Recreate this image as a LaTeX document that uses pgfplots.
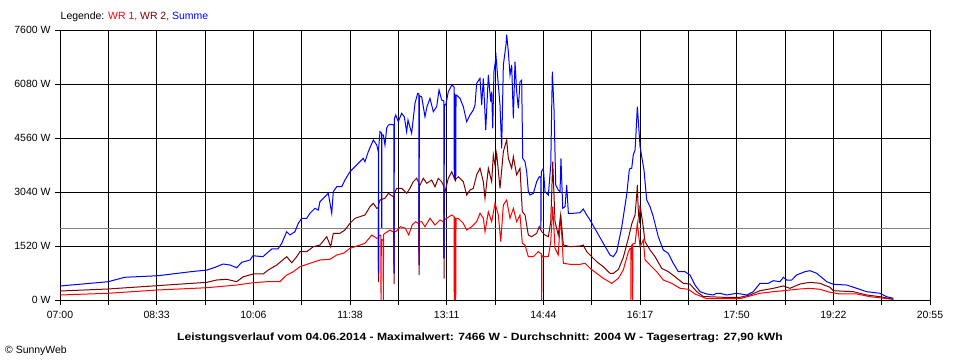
\documentclass[border=0pt]{standalone}
\usepackage{pgfplots}
\pgfplotsset{compat=1.18}
\usepackage{fontspec}
\setmainfont{Liberation Sans}
\newfontfamily\widefont{Liberation Sans}[FakeStretch=1.158]
\definecolor{wrone}{RGB}{255,0,0}
\definecolor{wrtwo}{RGB}{128,0,0}
\definecolor{summe}{RGB}{0,0,255}
\definecolor{avg}{RGB}{128,128,128}
\begin{document}
\begin{tikzpicture}[x=1bp,y=1bp]
\useasboundingbox (0,0) rectangle (960,360);
\fill[white] (0,0) rectangle (960,360);
\begin{axis}[
  at={(60bp,60bp)}, anchor=south west,
  scale only axis, width=870bp, height=270bp,
  xmin=420, xmax=1255, ymin=0, ymax=7600,
  xtick={420,466.39,512.78,559.17,605.56,651.94,698.33,744.72,791.11,837.5,883.89,930.28,976.67,1023.06,1069.44,1115.83,1162.22,1208.61,1255},
  xticklabels={07:00,,08:33,,10:06,,11:38,,13:11,,14:44,,16:17,,17:50,,19:22,,20:55},
  ytick={0,1520,3040,4560,6080,7600},
  yticklabels={0 W,1520 W,3040 W,4560 W,6080 W,7600 W},
  grid=major,
  major grid style={black, line width=1bp},
  axis line style={black, line width=1bp},
  tick style={black, line width=1bp},
  tick align=outside, major tick length=5bp,
  xtick pos=bottom, ytick pos=left,
  tick label style={font=\fontsize{10.5}{12}\selectfont, black},
  xticklabel style={yshift=-3bp},
  yticklabel style={xshift=-1bp},
  clip=true,
]
\addplot[avg, line width=1bp] coordinates {(420,2004) (1255,2004)};
% WR 1
\addplot[wrone, line width=1bp] coordinates {
(420,141)(466.1,189)(513.1,281)(561.1,346)(589.6,422)(605.5,487)(618.4,515)(631.1,515)
(637.6,704)(643.9,797)(650.3,937)(659.9,1033)(669.5,1126)(679.1,1146)(685.6,1267)(692.1,1315)
(698.3,1455)(703.1,1500)(712.7,1596)(719.2,1830)(724.0,1737)(725.5,1750)(725.7,751)(725.9,1800)(727.1,1830)
(727.9,1800)(728.1,0)(728.4,1700)(729.3,1689)(730.1,1700)(730.3,0)(730.6,1850)(731.9,1877)(736.7,1970)(739.9,1914)
(740.4,1900)(740.6,751)(740.9,1923)(742.2,1923)(746.7,2063)(751.5,2018)(754.7,1830)(758.0,2111)(761.2,2204)
(764.4,2150)(764.6,985)(764.9,2200)(767.1,2204)(770.3,2063)(775.1,2300)(779.9,2111)(784.7,2252)
(788.1,2200)(788.3,1174)(788.6,2250)(791.1,2300)(796.0,2393)(798.2,2350)(798.4,0)(798.7,2320)(799.1,2308)
(799.5,2300)(799.8,0)(800.1,2300)(802.3,2300)(807.1,2159)(810.3,1970)(815.1,2063)(819.9,2204)(823.1,2441)
(826.3,2300)(827.9,1923)(831.1,2485)(834.3,2204)(837.5,2722)(840.7,2393)(843.0,1641)(845.5,2674)
(848.7,2815)(851.9,2300)(855.1,2581)(858.3,2204)(861.5,2393)(863.7,1596)(866.3,1548)(869.5,1219)
(874.3,1219)(879.0,1360)(880.7,1323)(882.1,1300)(882.3,0)(882.6,1250)(883.9,1219)(888.7,1219)(891.0,1641)
(892.9,2626)(895.1,1455)(898.2,1267)(900.5,2393)(903.1,1033)(909.5,1005)(919.1,1005)(923.9,1033)
(928.7,892)(935.1,751)(941.4,611)(949.5,470)(955.9,611)(960.6,844)(965.5,1360)(967.1,1455)
(967.8,1450)(968.0,0)(968.3,1500)(968.7,1548)(969.4,1560)(969.6,0)(969.9,1580)(971.9,1596)(974.1,2159)
(976.7,1500)(979.8,1689)(981.5,1126)(986.3,985)(992.7,797)(999.0,563)(1007.1,470)(1015.1,329)
(1023.1,301)(1029.4,169)(1037.4,76)(1040.7,37)(1072.6,37)(1082.2,113)(1091.8,189)(1104.6,234)
(1114.2,262)(1130.2,310)(1139.8,329)(1149.4,301)(1159.0,217)(1168.6,169)(1184.6,169)(1197.4,93)
(1219.8,20)};
% WR 2
\addplot[wrtwo, line width=1bp] coordinates {
(420,253)(466.1,310)(513.1,403)(561.1,498)(570.4,563)(580.0,583)(589.6,515)(596.0,656)
(605.5,732)(615.1,732)(619.9,844)(628.0,985)(637.6,1219)(642.4,1050)(647.2,1219)(650.3,1360)
(656.8,1360)(663.1,1500)(669.5,1548)(676.0,1782)(679.8,1500)(682.3,1877)(688.7,1877)(693.5,1970)
(698.3,2159)(703.1,2300)(712.7,2393)(717.5,2626)(720.7,2722)(724.0,2581)(725.5,2600)(725.7,500)(725.9,2700)
(727.1,2815)(731.9,2863)(735.1,3003)(739.9,2908)(740.4,2900)(740.6,450)(740.9,3000)(743.1,3144)
(747.9,3144)(752.7,3003)(755.9,3144)(759.1,3330)(762.3,3426)(764.4,3300)(764.6,700)(764.9,3250)
(765.6,3237)(768.7,3426)(772.0,3285)(776.7,3378)(779.9,3189)(783.1,3426)(786.3,3330)(788.4,3200)(788.6,600)
(788.9,3100)(789.5,3048)(792.7,3426)(796.0,3611)(799.1,3378)(802.3,3471)(807.1,3330)(810.3,2956)
(813.5,3096)(816.7,3144)(819.9,3519)(823.1,3707)(826.3,3330)(827.9,2863)(831.1,3707)(834.3,3330)
(835.9,4081)(837.5,3800)(839.1,4129)(842.3,3144)(845.5,4174)(848.7,4504)(850.3,3989)(853.5,3707)
(855.1,4034)(858.3,3519)(861.5,3707)(863.7,2485)(866.3,2393)(869.5,1830)(872.7,1782)(877.5,1877)
(880.0,2063)(882.3,1923)(885.5,1830)(888.7,1782)(891.0,2204)(892.9,3893)(895.1,2204)(898.2,1830)
(900.5,2393)(903.1,1548)(909.5,1500)(919.1,1520)(922.2,1548)(925.5,1360)(928.7,1267)(935.1,1078)
(941.4,937)(947.9,751)(951.0,751)(955.9,859)(960.6,1196)(965.5,1737)(968.7,2139)(971.9,2393)
(973.5,2956)(974.1,3237)(975.0,2533)(976.0,2159)(976.7,2674)(979.3,2159)(981.5,1641)(986.3,1407)
(991.1,1219)(997.5,892)(1003.8,797)(1010.2,656)(1018.2,470)(1024.6,450)(1031.1,234)(1037.4,99)
(1056.6,76)(1072.6,76)(1082.2,141)(1091.8,262)(1104.6,329)(1114.2,394)(1120.6,329)(1130.2,450)
(1139.8,498)(1149.4,470)(1159.0,357)(1162.2,262)(1181.4,234)(1194.2,141)(1207.0,93)(1219.8,20)};
% Summe
\addplot[summe, line width=1bp] coordinates {
(420,394)(466.1,515)(482.1,639)(514.1,684)(545.7,797)(561.1,844)(568.8,920)(576.4,1013)
(583.2,985)(589.6,909)(594.4,1061)(602.4,1126)(605.2,1247)(614.8,1219)(618.4,1314)(623.2,1436)
(629.2,1436)(632.8,1596)(637.6,1923)(640.7,1830)(645.5,1923)(648.7,2159)(652.0,2300)(656.8,2300)
(659.9,2441)(664.7,2581)(667.9,2533)(669.5,2767)(672.7,2863)(677.5,3003)(680.8,2441)(682.3,3048)
(685.6,3189)(690.4,3189)(693.5,3378)(698.3,3611)(703.1,3752)(707.9,3893)(711.1,3989)(712.7,3893)
(715.9,4174)(720.7,4504)(724.0,4363)(725.5,4174)(725.7,751)(725.9,4300)(727.1,4737)(728.6,4700)(728.8,2027)
(729.0,4650)(730.3,4644)(731.9,4363)(733.5,4833)(735.1,4926)(738.3,4946)(740.4,4926)(740.6,751)(740.9,5100)
(742.2,5207)(744.7,5019)(747.9,5255)(750.4,5160)(752.7,4737)(754.0,5067)(757.5,4692)(760.7,5537)
(763.3,5818)(764.4,5800)(764.6,985)(764.9,5750)(767.1,5722)(770.3,5160)(772.2,5441)(775.1,5677)
(778.3,5300)(781.5,5441)(783.8,5911)(786.3,5630)(788.4,5600)(788.6,1174)(788.9,5500)(790.2,5489)
(792.7,5863)(796.0,6052)(798.2,6000)(798.4,3426)(798.7,5800)(799.1,5770)(799.5,5770)(799.8,3330)
(800.1,5770)(800.7,5770)(803.9,5677)(807.1,5441)(810.3,5019)(813.5,5207)(816.7,5348)(818.3,5489)
(819.9,6100)(823.1,6241)(824.7,5489)(826.3,6241)(828.6,4785)(831.1,6333)(833.4,5582)(834.3,5863)
(835.3,4833)(836.5,6426)(838.5,6849)(840.7,6052)(842.3,5489)(843.9,4270)(845.5,6615)(848.0,7178)
(848.7,7466)(850.3,6989)(851.9,6333)(853.5,6615)(855.1,5114)(856.7,6708)(858.3,5863)(859.9,5396)
(861.5,6145)(863.1,6192)(864.1,3989)(866.3,3893)(867.9,3612)(869.5,3048)(871.1,2956)(874.3,3003)
(877.5,3330)(880.0,3471)(881.4,3450)(881.6,2018)(881.9,3600)(883.9,3707)(885.5,3048)(888.7,2956)
(891.0,3800)(892.5,6426)(894.1,5396)(895.8,3237)(898.2,3096)(899.9,3048)(900.8,3989)(902.5,2581)
(904.7,2626)(906.3,3237)(907.9,2441)(912.7,2441)(919.1,2457)(922.2,2562)(925.5,2393)(928.7,2252)
(935.1,1923)(941.4,1596)(947.9,1267)(951.0,1219)(954.3,1360)(959.1,2050)(963.9,2970)(966.4,3659)
(967.1,3707)(968.7,3707)(970.2,4081)(971.9,4222)(972.8,4692)(974.1,5441)(975.0,5067)(976.7,4315)
(978.3,4034)(980.5,3659)(983.1,2815)(986.3,2626)(989.4,2345)(994.2,1782)(999.0,1407)(1003.8,1314)
(1008.6,1033)(1013.4,797)(1019.8,797)(1024.6,704)(1029.4,422)(1034.3,234)(1040.7,169)(1047.0,141)
(1050.2,189)(1053.4,189)(1059.9,141)(1069.5,189)(1079.1,141)(1085.4,234)(1091.8,470)(1099.8,470)
(1104.6,543)(1111.0,515)(1114.2,639)(1117.4,563)(1122.3,563)(1127.0,704)(1135.0,797)(1139.8,825)
(1146.3,751)(1155.9,515)(1162.2,442)(1175.0,422)(1184.6,329)(1194.2,234)(1207.0,189)(1213.4,93)
(1219.8,48)};
\end{axis}
\node[anchor=base west, inner sep=0, font=\fontsize{10.5}{12}\selectfont] at (60.5,340.5)
  {Legende: \textcolor{wrone}{WR 1,} \textcolor{wrtwo}{WR 2,} \textcolor{summe}{Summe}};
\node[anchor=base, inner sep=0, font=\widefont\fontsize{10.5}{12}\selectfont\bfseries] at (480,20)
  {Leistungsverlauf vom 04.06.2014 - Maximalwert: 7466 W - Durchschnitt: 2004 W - Tagesertrag: 27,90 kWh};
\node[anchor=base west, inner sep=0, font=\fontsize{10.5}{12}\selectfont] at (5,7) {© SunnyWeb};
\end{tikzpicture}
\end{document}
